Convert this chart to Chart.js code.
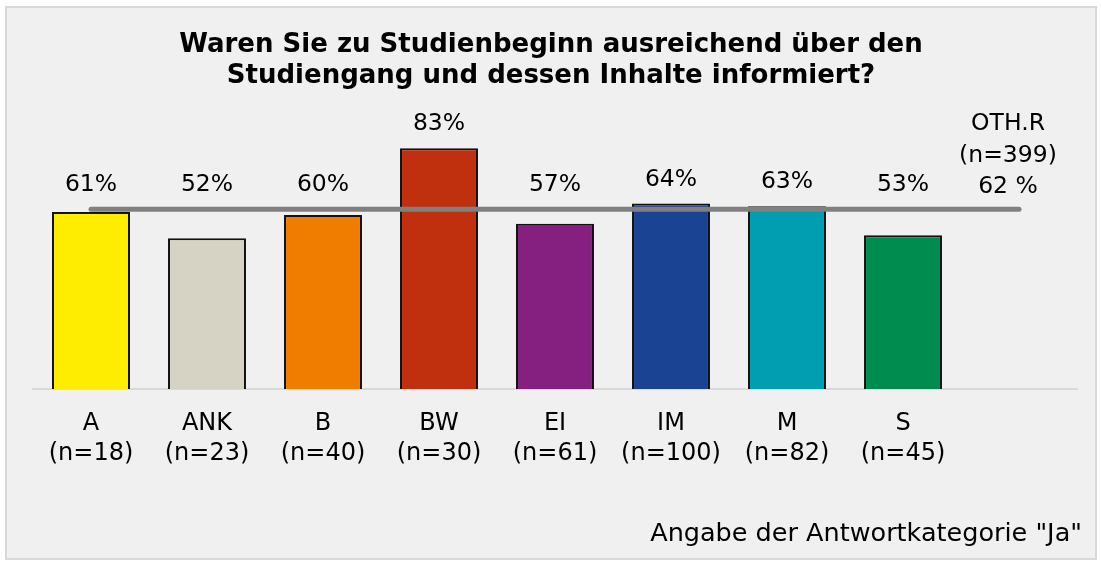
<!DOCTYPE html>
<html lang="de">
<head>
<meta charset="UTF-8">
<title>Studienbeginn Information</title>
<script src="https://cdn.jsdelivr.net/npm/chart.js"></script>
<style>
  html, body { margin: 0; padding: 0; background: #ffffff; }
  #frame {
    position: absolute; left: 5px; top: 6px; width: 1088px; height: 550px;
    background: #f0f0f0; border: 2px solid #d9d9d9;
  }
  #wrap { position: absolute; left: 0; top: 0; width: 1101px; height: 566px; }
</style>
</head>
<body>
<div id="frame"></div>
<div id="wrap"><canvas id="chart" width="1101" height="566"></canvas></div>
<script>
  // data
  const categories = ["A", "ANK", "B", "BW", "EI", "IM", "M", "S", "OTH.R"];
  const sampleSizes = [18, 23, 40, 30, 61, 100, 82, 45, 399];
  const yesShare = [61, 52, 60, 83, 57, 64, 63, 53, null];
  const overallShare = 62;
  const barColors = ["#ffed00", "#d6d3c4", "#f07d00", "#c1300e", "#852081", "#1a4394", "#009eb0", "#008c4f", "#f0f0f0"];

  const titleLines = ["Waren Sie zu Studienbeginn ausreichend über den", "Studiengang und dessen Inhalte informiert?"];
  const footNote = 'Angabe der Antwortkategorie "Ja"';

  const FONT = "'DejaVu Sans', sans-serif";

  const tickLabels = categories.map((c, i) => i < categories.length - 1 ? [c, "(n=" + sampleSizes[i] + ")"] : "");

  const textPlugin = {
    id: "texts",
    afterDatasetsDraw(chart) {
      const ctx = chart.ctx;
      const x = chart.scales.x, y = chart.scales.y;
      ctx.save();
      ctx.fillStyle = "#000";
      ctx.textAlign = "center";
      ctx.textBaseline = "middle";

      // title
      ctx.font = "bold 26px " + FONT;
      ctx.fillText(titleLines[0], 551, 45);
      ctx.fillText(titleLines[1], 551, 76);

      // value labels above bar or average line
      ctx.font = "23.5px " + FONT;
      yesShare.forEach((v, i) => {
        if (v === null) return;
        const top = Math.min(y.getPixelForValue(v), y.getPixelForValue(overallShare));
        ctx.fillText(v + "%", x.getPixelForValue(i), top - 24);
      });

      // overall label at line end
      const last = categories.length - 1;
      const lx = x.getPixelForValue(last) - 11;
      const ly = y.getPixelForValue(overallShare);
      ctx.fillText(overallShare + " %", lx, ly - 22);
      ctx.fillText("(n=" + sampleSizes[last] + ")", lx, ly - 53);
      ctx.fillText(categories[last], lx, ly - 85);

      // foot note
      ctx.font = "25.5px " + FONT;
      ctx.textAlign = "right";
      ctx.fillText(footNote, 1082, 534);
      ctx.restore();
    }
  };

  new Chart(document.getElementById("chart"), {
    data: {
      labels: tickLabels,
      datasets: [
        {
          type: "line",
          data: categories.map(() => overallShare),
          borderColor: "#808080",
          borderWidth: 5,
          borderCapStyle: "round",
          pointRadius: 0,
          order: 0
        },
        {
          type: "bar",
          data: yesShare,
          backgroundColor: barColors,
          borderColor: "#111111",
          borderWidth: 2,
          barPercentage: 0.672,
          categoryPercentage: 1,
          order: 1
        }
      ]
    },
    options: {
      responsive: false,
      animation: false,
      layout: { padding: { left: 33, right: 24, top: 99, bottom: 0 } },
      plugins: { legend: { display: false }, tooltip: { enabled: false }, title: { display: false } },
      scales: {
        x: {
          grid: { display: false },
          border: { display: true, color: "#d9d9d9", width: 2 },
          ticks: {
            color: "#000",
            font: { family: FONT, size: 24, lineHeight: 1.25 },
            padding: 12,
            maxRotation: 0,
            autoSkip: false
          },
          afterFit(scale) { scale.height = 566 - 389; }
        },
        y: { display: false, min: 0, max: 100 }
      }
    },
    plugins: [textPlugin]
  });
</script>
</body>
</html>
